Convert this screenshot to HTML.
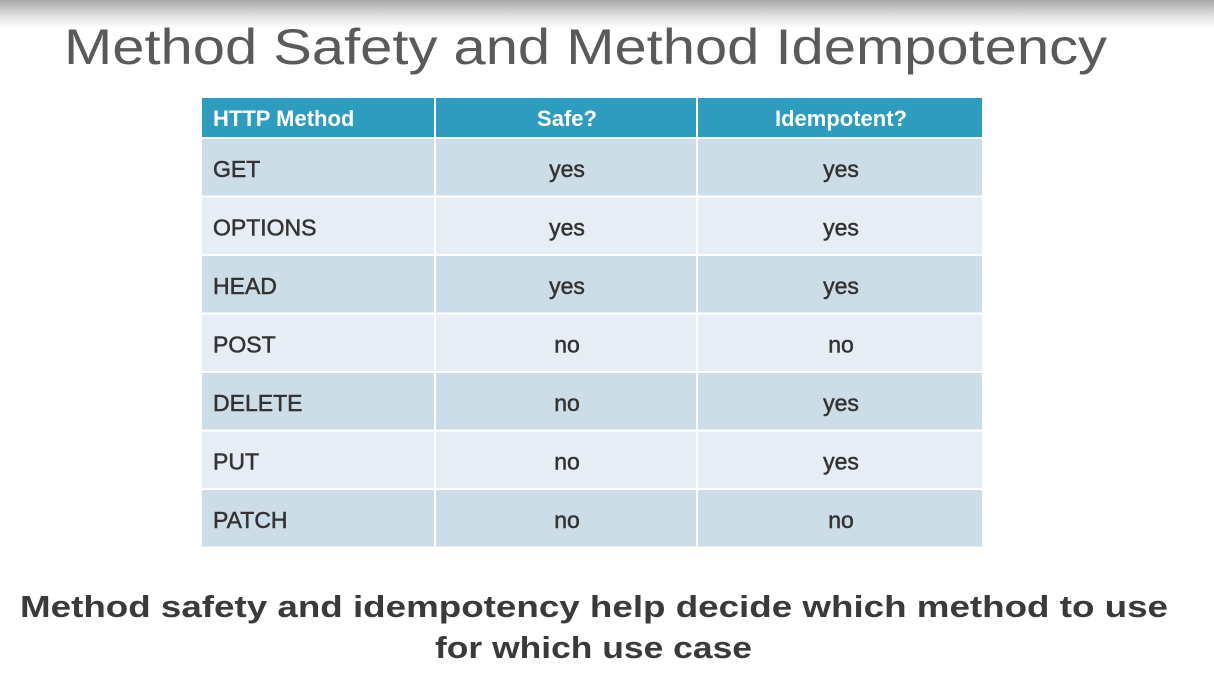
<!DOCTYPE html>
<html><head><meta charset="utf-8"><style>
html,body{margin:0;padding:0;width:1214px;height:681px;overflow:hidden;background:#fff}
svg{display:block}
text{font-family:"Liberation Sans",sans-serif}
</style></head><body>
<svg width="1214" height="681" viewBox="0 0 1214 681">
<defs><linearGradient id="g" x1="0" y1="0" x2="0" y2="1">
<stop offset="0" stop-color="#a9a9a9"/><stop offset="0.6" stop-color="#e4e4e4"/><stop offset="1" stop-color="#ffffff"/></linearGradient></defs>
<rect x="0" y="0" width="1214" height="28" fill="url(#g)"/>
<text x="64" y="64" font-size="50" fill="#5a5a5a" textLength="1043" lengthAdjust="spacingAndGlyphs">Method Safety and Method Idempotency</text>
<g id="tbl"></g>
<text x="20" y="617" font-size="31" font-weight="bold" fill="#3a3a3a" textLength="1148" lengthAdjust="spacingAndGlyphs">Method safety and idempotency help decide which method to use</text>
<text x="435" y="658" font-size="31" font-weight="bold" fill="#3a3a3a" textLength="317" lengthAdjust="spacingAndGlyphs">for which use case</text>
</svg>
<script>
const methods=["GET","OPTIONS","HEAD","POST","DELETE","PUT","PATCH"];
const safe=["yes","yes","yes","no","no","no","no"];
const idem=["yes","yes","yes","no","yes","yes","no"];
const headers=["HTTP Method","Safe?","Idempotent?"];
const NS="http://www.w3.org/2000/svg";
const g=document.getElementById('tbl');
const cols=[202,436,698,984];
const rowY=[139,197.5,256,314.5,373,431.5,490,548.5];
function mk(t,a){const e=document.createElementNS(NS,t);for(const k in a)e.setAttribute(k,a[k]);g.appendChild(e);return e;}
for(let c=0;c<3;c++){
 const r=mk('rect',{x:cols[c],y:98,width:cols[c+1]-cols[c]-2,height:39,fill:'#2e9cbf'});
 
 
 const t=mk('text',{x:c==0?cols[c]+11:(cols[c]+cols[c+1])/2,y:126,'font-size':22,'font-weight':'bold',fill:'#fff','text-anchor':c==0?'start':'middle'});
 t.textContent=headers[c];
 
 
}
for(let i=0;i<methods.length;i++){
 const vals=[methods[i],safe[i],idem[i]];
 for(let c=0;c<3;c++){
  const r=mk('rect',{x:cols[c],y:rowY[i],width:cols[c+1]-cols[c]-2,height:rowY[i+1]-rowY[i]-2,fill:i%2==0?'#cddde8':'#e7edf4'});
  
  
  const t=mk('text',{x:c==0?cols[c]+11:(cols[c]+cols[c+1])/2,y:rowY[i]+38,'font-size':23,fill:'#333','stroke':'#333','stroke-width':0.5,'text-anchor':c==0?'start':'middle'});
  t.textContent=vals[c];
  
  
 }
}
</script>
</body></html>
